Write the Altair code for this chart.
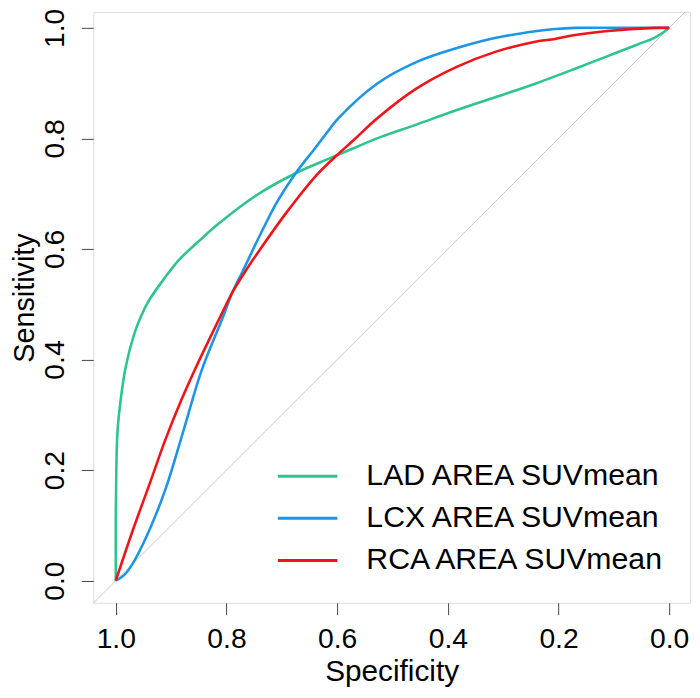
import altair as alt
import pandas as pd

# ROC curves (specificity, sensitivity)
lad_spec = [1.0, 1.0, 0.999, 0.997, 0.991, 0.982, 0.967, 0.955, 0.94, 0.912, 0.887, 0.85, 0.815, 0.743,
            0.675, 0.618, 0.564, 0.528, 0.457, 0.385, 0.313, 0.242, 0.17, 0.116, 0.057, 0.027, 0.009, 0.0]
lad_sens = [0.0, 0.118, 0.2, 0.268, 0.328, 0.387, 0.445, 0.477, 0.507, 0.547, 0.579, 0.614, 0.645, 0.699,
            0.737, 0.762, 0.785, 0.80, 0.825, 0.851, 0.875, 0.899, 0.926, 0.947, 0.97, 0.982, 0.993, 1.0]

lcx_spec = [1.0, 0.985, 0.97, 0.94, 0.91, 0.881, 0.845, 0.807, 0.789, 0.77, 0.738, 0.708, 0.675,
            0.641, 0.618, 0.6, 0.528, 0.457, 0.385, 0.313, 0.242, 0.206, 0.17, 0.1, 0.0]
lcx_sens = [0.0, 0.01, 0.03, 0.09, 0.166, 0.26, 0.38, 0.475, 0.522, 0.561, 0.628, 0.686, 0.737,
            0.781, 0.811, 0.834, 0.899, 0.938, 0.963, 0.982, 0.994, 0.998, 1.0, 1.0, 1.0]

rca_spec = [1.0, 0.97, 0.94, 0.91, 0.881, 0.857, 0.81, 0.789, 0.765, 0.738, 0.69, 0.636, 0.6,
            0.57, 0.528, 0.457, 0.385, 0.313, 0.242, 0.206, 0.17, 0.116, 0.027, 0.0]
rca_sens = [0.0, 0.089, 0.172, 0.256, 0.328, 0.382, 0.48, 0.522, 0.561, 0.601, 0.668, 0.735, 0.77,
            0.797, 0.836, 0.89, 0.929, 0.957, 0.975, 0.98, 0.987, 0.994, 1.0, 1.0]

series = ["LAD AREA SUVmean", "LCX AREA SUVmean", "RCA AREA SUVmean"]
colors = ["#2ec48d", "#1c95e6", "#f01418"]
ticks = [0.0, 0.2, 0.4, 0.6, 0.8, 1.0]

rows = []
for name, sp, se in zip(series, [lad_spec, lcx_spec, rca_spec], [lad_sens, lcx_sens, rca_sens]):
    for i, (a, b) in enumerate(zip(sp, se)):
        rows.append({"series": name, "order": i, "spec": a, "sens": b})
roc = pd.DataFrame(rows)

diag = pd.DataFrame({"spec": [1.05, -0.05], "sens": [-0.05, 1.05]})

x_scale = alt.Scale(domain=[-0.0376, 1.0407], reverse=True, nice=False, zero=False)
y_scale = alt.Scale(domain=[-0.04, 1.0287], nice=False, zero=False)

x_axis = alt.Axis(values=ticks, format=".1f", title="Specificity", grid=False, domain=False,
                  tickSize=12, tickColor="#444444", labelFontSize=28.5, labelColor="black",
                  labelBaseline="top", labelPadding=10, labelFlush=False,
                  titleFontSize=30, titleFontWeight="normal", titleColor="black",
                  titleBaseline="alphabetic", titleY=78, titleX=301)
y_axis = alt.Axis(values=ticks, format=".1f", title="Sensitivity", grid=False, domain=False,
                  tickSize=12, tickColor="#444444", labelFontSize=28.5, labelColor="black",
                  labelAngle=270, labelAlign="center", labelBaseline="alphabetic",
                  labelPadding=18, labelFlush=False,
                  titleFontSize=29, titleFontWeight="normal", titleColor="black",
                  titleAngle=270, titleAlign="center", titleBaseline="alphabetic",
                  titleX=-60, titleY=288)

chance = alt.Chart(diag).mark_line(color="#c8c8c8", strokeWidth=1, clip=True).encode(
    x=alt.X("spec:Q", scale=x_scale, axis=x_axis),
    y=alt.Y("sens:Q", scale=y_scale, axis=y_axis),
)

# short custom stroke symbol: 60px long line, small nominal size keeps rows tight
curves = alt.Chart(roc).mark_line(strokeWidth=2.6, clip=True, interpolate="catmull-rom").encode(
    x=alt.X("spec:Q", scale=x_scale, axis=x_axis),
    y=alt.Y("sens:Q", scale=y_scale, axis=y_axis),
    order="order:Q",
    color=alt.Color("series:N", scale=alt.Scale(domain=series, range=colors),
                    legend=alt.Legend(title=None, orient="none", legendX=201, legendY=453,
                                      symbolType="M-3,0H3", symbolSize=400, symbolStrokeWidth=3,
                                      symbolFillColor="transparent",
                                      labelFontSize=30.5, labelColor="black", labelOffset=44,
                                      labelLimit=0, rowPadding=11.5, padding=0)),
)

chart = alt.layer(chance, curves).properties(
    width=602, height=596,
    autosize=alt.AutoSizeParams(type="none"),
    padding={"left": 86, "top": 1, "right": 2, "bottom": 90},
).configure_view(
    stroke="#444444", strokeWidth=1.5
).configure(
    font="Liberation Sans"
)

chart.save("out.html", embed_options={"renderer": "svg", "actions": False})
